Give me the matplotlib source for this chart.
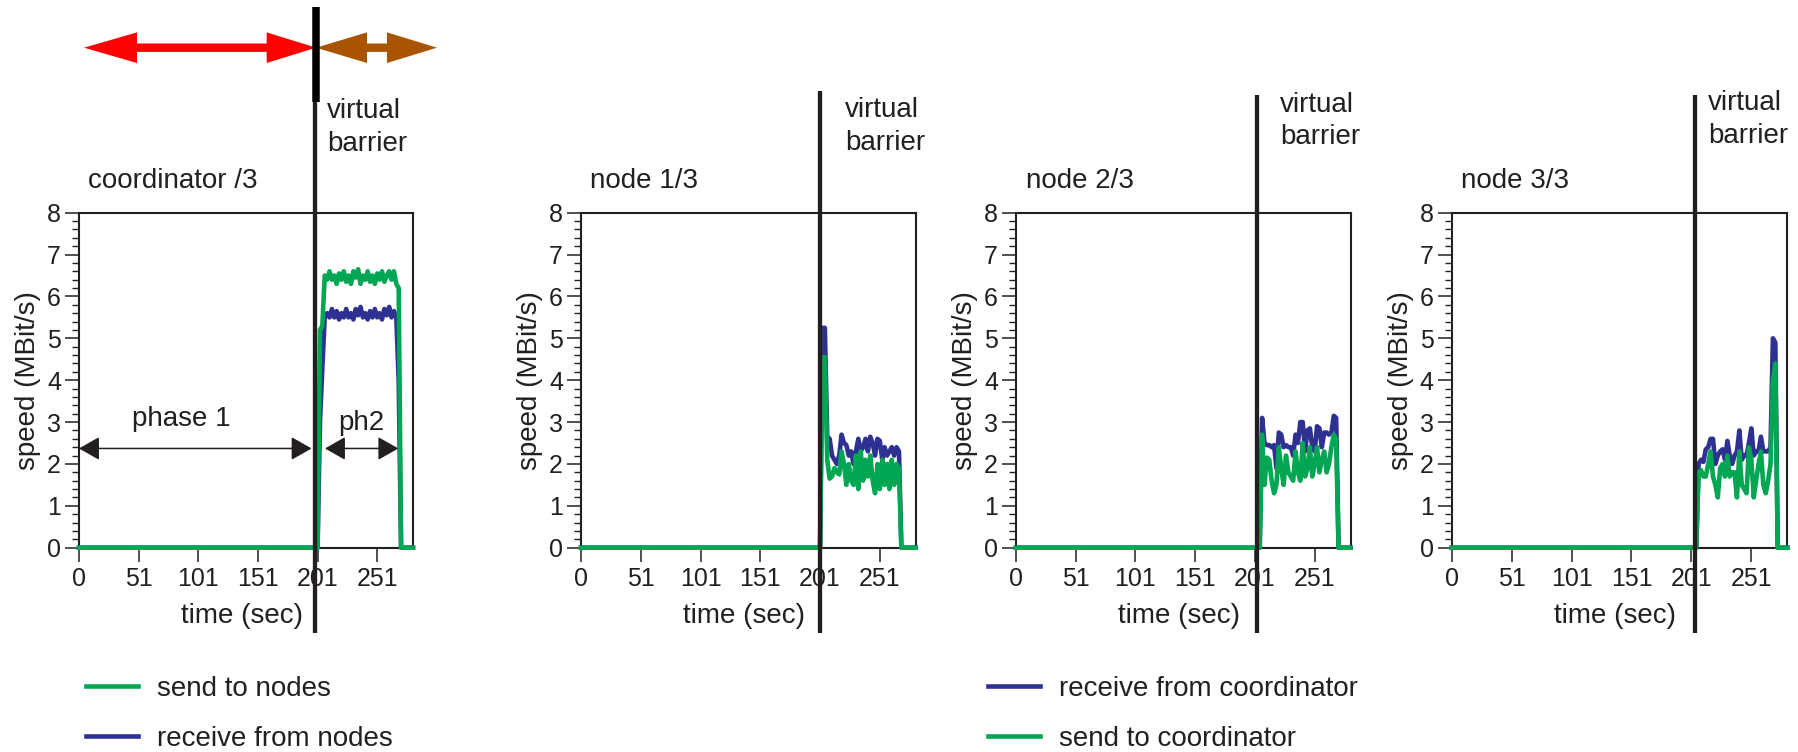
import numpy as np
import matplotlib
matplotlib.use('Agg')
import matplotlib.pyplot as plt
from matplotlib.lines import Line2D
from matplotlib.patches import Polygon, FancyArrowPatch
from matplotlib.ticker import MultipleLocator
import matplotlib.transforms as mtransforms

# ---------------- data ----------------
x_tick_pos = [0, 50, 100, 150, 200, 250]
x_tick_labels = ['0', '51', '101', '151', '201', '251']
panel_titles = ['coordinator /3', 'node 1/3', 'node 2/3', 'node 3/3']
t_end = 280
step = 2  # sampling step of the active window (sec)

# coordinator: active window starts at t=200
coord_t0 = 200
coord_send = [0, 5.2, 5.3, 6.5, 6.4, 6.6, 6.4, 6.5, 6.3, 6.55, 6.4, 6.6, 6.35, 6.5, 6.3, 6.6,
              6.45, 6.65, 6.3, 6.5, 6.4, 6.6, 6.35, 6.5, 6.3, 6.55, 6.4, 6.6, 6.35, 6.5, 6.6,
              6.4, 6.6, 6.3, 6.2, 0]
coord_recv = [0, 3.0, 4.3, 5.5, 5.6, 5.5, 5.7, 5.5, 5.65, 5.45, 5.6, 5.5, 5.7, 5.5, 5.6, 5.45,
              5.7, 5.55, 5.75, 5.5, 5.6, 5.45, 5.65, 5.5, 5.7, 5.5, 5.6, 5.45, 5.7, 5.55, 5.75,
              5.5, 5.65, 5.5, 4.0, 0]

node1_t0 = 200
node1_recv = [0, 5.25, 5.25, 2.65, 2.6, 2.2, 2.1, 2.0, 2.2, 2.7, 2.5, 2.45, 2.2, 2.3, 2.0, 2.3,
              2.6, 2.3, 2.4, 2.6, 2.3, 2.65, 2.5, 2.2, 2.6, 2.55, 2.1, 2.4, 2.2, 2.3, 2.4, 2.2,
              2.4, 2.3, 0]
node1_send = [0, 4.55, 4.55, 2.1, 1.65, 1.7, 1.9, 1.8, 1.75, 2.3, 2.0, 1.5, 2.0, 1.6, 1.5, 2.2,
              1.4, 2.3, 1.6, 2.1, 1.7, 2.2, 1.6, 1.3, 2.0, 1.4, 2.1, 1.5, 2.0, 1.4, 2.1, 1.5,
              2.0, 1.9, 0]

node2_t0 = 204
node2_recv = [0, 3.1, 2.5, 2.45, 2.45, 2.4, 2.45, 1.9, 2.75, 2.7, 2.4, 2.45, 2.4, 2.4, 2.2, 2.7,
              2.5, 3.0, 3.0, 2.3, 2.8, 2.85, 2.4, 2.3, 2.9, 2.85, 2.4, 2.75, 2.75, 2.7, 2.75,
              3.15, 3.1, 0]
node2_send = [0, 2.7, 1.5, 2.15, 2.1, 1.6, 1.3, 1.5, 2.4, 1.9, 1.5, 2.2, 1.8, 1.7, 1.6, 2.3,
              1.8, 1.6, 2.5, 1.7, 1.9, 2.4, 1.7, 2.0, 2.4, 1.8, 2.1, 2.3, 1.8, 2.0, 2.4, 2.7,
              2.6, 0]

node3_t0 = 204
node3_recv = [0, 2.0, 2.1, 2.05, 2.35, 2.4, 2.6, 2.6, 2.0, 2.2, 2.3, 2.35, 2.1, 2.55, 2.2, 2.0,
              2.2, 2.3, 2.8, 2.1, 2.2, 2.2, 2.5, 2.85, 2.2, 2.3, 2.3, 2.65, 2.3, 2.3, 2.3, 2.4,
              5.0, 4.9, 0]
node3_send = [0, 1.8, 1.85, 1.7, 1.7, 2.0, 2.3, 1.7, 1.5, 1.2, 1.9, 2.0, 1.7, 2.2, 1.7, 1.8,
              1.8, 1.2, 2.3, 1.5, 1.4, 1.3, 2.4, 2.1, 1.2, 1.6, 2.0, 2.3, 1.5, 1.3, 1.6, 2.0,
              4.0, 4.4, 0]

barrier_t = [197.5, 199.7, 201.7, 202.6]

coord_labels = ['send to nodes', 'receive from nodes']
node_labels = ['receive from coordinator', 'send to coordinator']

# ---------------- style / layout ----------------
W, H, DPI = 1798, 752, 100
plt.rcParams['font.family'] = ['Liberation Sans', 'DejaVu Sans']
INK = '#231F20'
GREEN = '#00A651'
BLUE = '#2E3192'
RED = '#FF0000'
BROWN = '#A85400'
LW = 3.3

fig = plt.figure(figsize=(W / DPI, H / DPI), dpi=DPI)
fig.patch.set_facecolor('white')


def fx(px):
    return px / W


def fy(py):
    return 1 - py / H


def series(t0, vals):
    ta = t0 + step * np.arange(len(vals))
    t = np.concatenate([[0], ta, [t_end]])
    v = np.concatenate([[0], vals, [0]])
    return t, v


axes_px = [(79, 413), (581, 915.7), (1016, 1350.5), (1451.7, 1787.3)]
top_px, bot_px = 212.7, 547.7

panel_data = [
    (coord_t0, coord_recv, coord_send),
    (node1_t0, node1_recv, node1_send),
    (node2_t0, node2_recv, node2_send),
    (node3_t0, node3_recv, node3_send),
]

axes = []
handles = []
for i, ((l, r), (t0, recv, send)) in enumerate(zip(axes_px, panel_data)):
    ax = fig.add_axes([fx(l), fy(bot_px), (r - l) / W, (bot_px - top_px) / H])
    axes.append(ax)
    tb, vb = series(t0, recv)
    tg, vg = series(t0, send)
    hb, = ax.plot(tb, vb, color=BLUE, lw=LW, clip_on=False, zorder=3)
    hg, = ax.plot(tg, vg, color=GREEN, lw=LW, clip_on=False, zorder=4)
    handles.append((hb, hg))
    ax.set_xlim(0, t_end)
    ax.set_ylim(0, 8)
    ax.set_xticks(x_tick_pos)
    ax.set_xticklabels(x_tick_labels)
    ax.set_yticks(range(9))
    ax.yaxis.set_minor_locator(MultipleLocator(0.2))
    ax.xaxis.set_minor_locator(plt.NullLocator())
    ax.tick_params(axis='both', which='major', direction='out', length=10, width=1.1,
                   labelsize=18, colors=INK)
    ax.tick_params(axis='x', pad=4)
    ax.tick_params(axis='y', pad=3)
    ax.tick_params(axis='y', which='minor', direction='out', length=5, width=1.0, colors=INK)
    for sp in ax.spines.values():
        sp.set_linewidth(1.5)
        sp.set_color(INK)
    ax.set_xlabel('time (sec)', fontsize=20, color=INK)
    ax.set_ylabel('speed (MBit/s)', fontsize=20, color=INK)
    ax.xaxis.set_label_coords(0.487, (bot_px - 603) / (bot_px - top_px))
    ax.yaxis.set_label_coords((41 - 79) / (r - l), 0.5)
    fig.text(fx(l + 9.5), fy(188), panel_titles[i], fontsize=20, color=INK,
             ha='left', va='baseline')

# ---------------- barriers ----------------
barrier_top_px = [102, 90.7, 95, 95]
barrier_bot_px = 633
text_x_px = [327, 845, 1280, 1708.3]
text_base_px = [(118, 151), (116.7, 150), (111.7, 144), (110, 143)]
for ax, bt, top, tx, (b1, b2) in zip(axes, barrier_t, barrier_top_px, text_x_px, text_base_px):
    trans = mtransforms.blended_transform_factory(ax.transData, fig.transFigure)
    fig.add_artist(Line2D([bt, bt], [fy(top), fy(barrier_bot_px)], transform=trans,
                          color=INK, lw=3.1, solid_capstyle='butt', zorder=10))
    fig.text(fx(tx), fy(b1), 'virtual', fontsize=20, color=INK, ha='left', va='baseline')
    fig.text(fx(tx), fy(b2), 'barrier', fontsize=20, color=INK, ha='left', va='baseline')

# thick top part of the coordinator barrier
trans0 = mtransforms.blended_transform_factory(axes[0].transData, fig.transFigure)
fig.add_artist(Line2D([barrier_t[0] + 0.8] * 2, [fy(7), fy(102)], transform=trans0,
                      color='black', lw=5.4, solid_capstyle='butt', zorder=11))


# ---------------- top phase arrows ----------------
def double_arrow(x0, xs0, xs1, x1, y, hw, sw, color):
    pts = [(x0, y), (xs0, y - hw), (xs0, y - sw), (xs1, y - sw), (xs1, y - hw), (x1, y),
           (xs1, y + hw), (xs1, y + sw), (xs0, y + sw), (xs0, y + hw)]
    pts = [(fx(a), fy(b)) for a, b in pts]
    fig.add_artist(Polygon(pts, closed=True, transform=fig.transFigure,
                           facecolor=color, edgecolor='none', zorder=9))


double_arrow(84, 137, 266.7, 316, 47.7, 15.3, 4.2, RED)
double_arrow(316, 367, 387, 437, 47.7, 15.3, 4.2, BROWN)

# ---------------- phase annotations (coordinator) ----------------
ax0 = axes[0]
for a, b in [(0, 195), (206.2, 267.7)]:
    ax0.add_patch(FancyArrowPatch((a, 2.37), (b, 2.37),
                                  arrowstyle='<|-|>,head_length=12.7,head_width=7.2',
                                  mutation_scale=1, color=INK, lw=1.1,
                                  shrinkA=0, shrinkB=0, zorder=6, clip_on=False))
ax0.text(86, 3.07, 'phase 1', fontsize=20, color=INK, ha='center', va='center')
ax0.text(236.4, 2.98, 'ph2', fontsize=20, color=INK, ha='center', va='center')

# ---------------- legends ----------------
hb0, hg0 = handles[0]
hb1, hg1 = handles[1]
leg_kw = dict(loc='upper left', bbox_transform=fig.transFigure, frameon=False,
              fontsize=20, handlelength=1.87, handletextpad=0.68, labelspacing=0.86,
              borderpad=0, borderaxespad=0, labelcolor=INK)
fig.legend([hg0, hb0], coord_labels, bbox_to_anchor=(fx(86), fy(676)), **leg_kw)
fig.legend([hb1, hg1], node_labels, bbox_to_anchor=(fx(988), fy(676)), **leg_kw)

fig.savefig('out.png', dpi=DPI, facecolor='white')
